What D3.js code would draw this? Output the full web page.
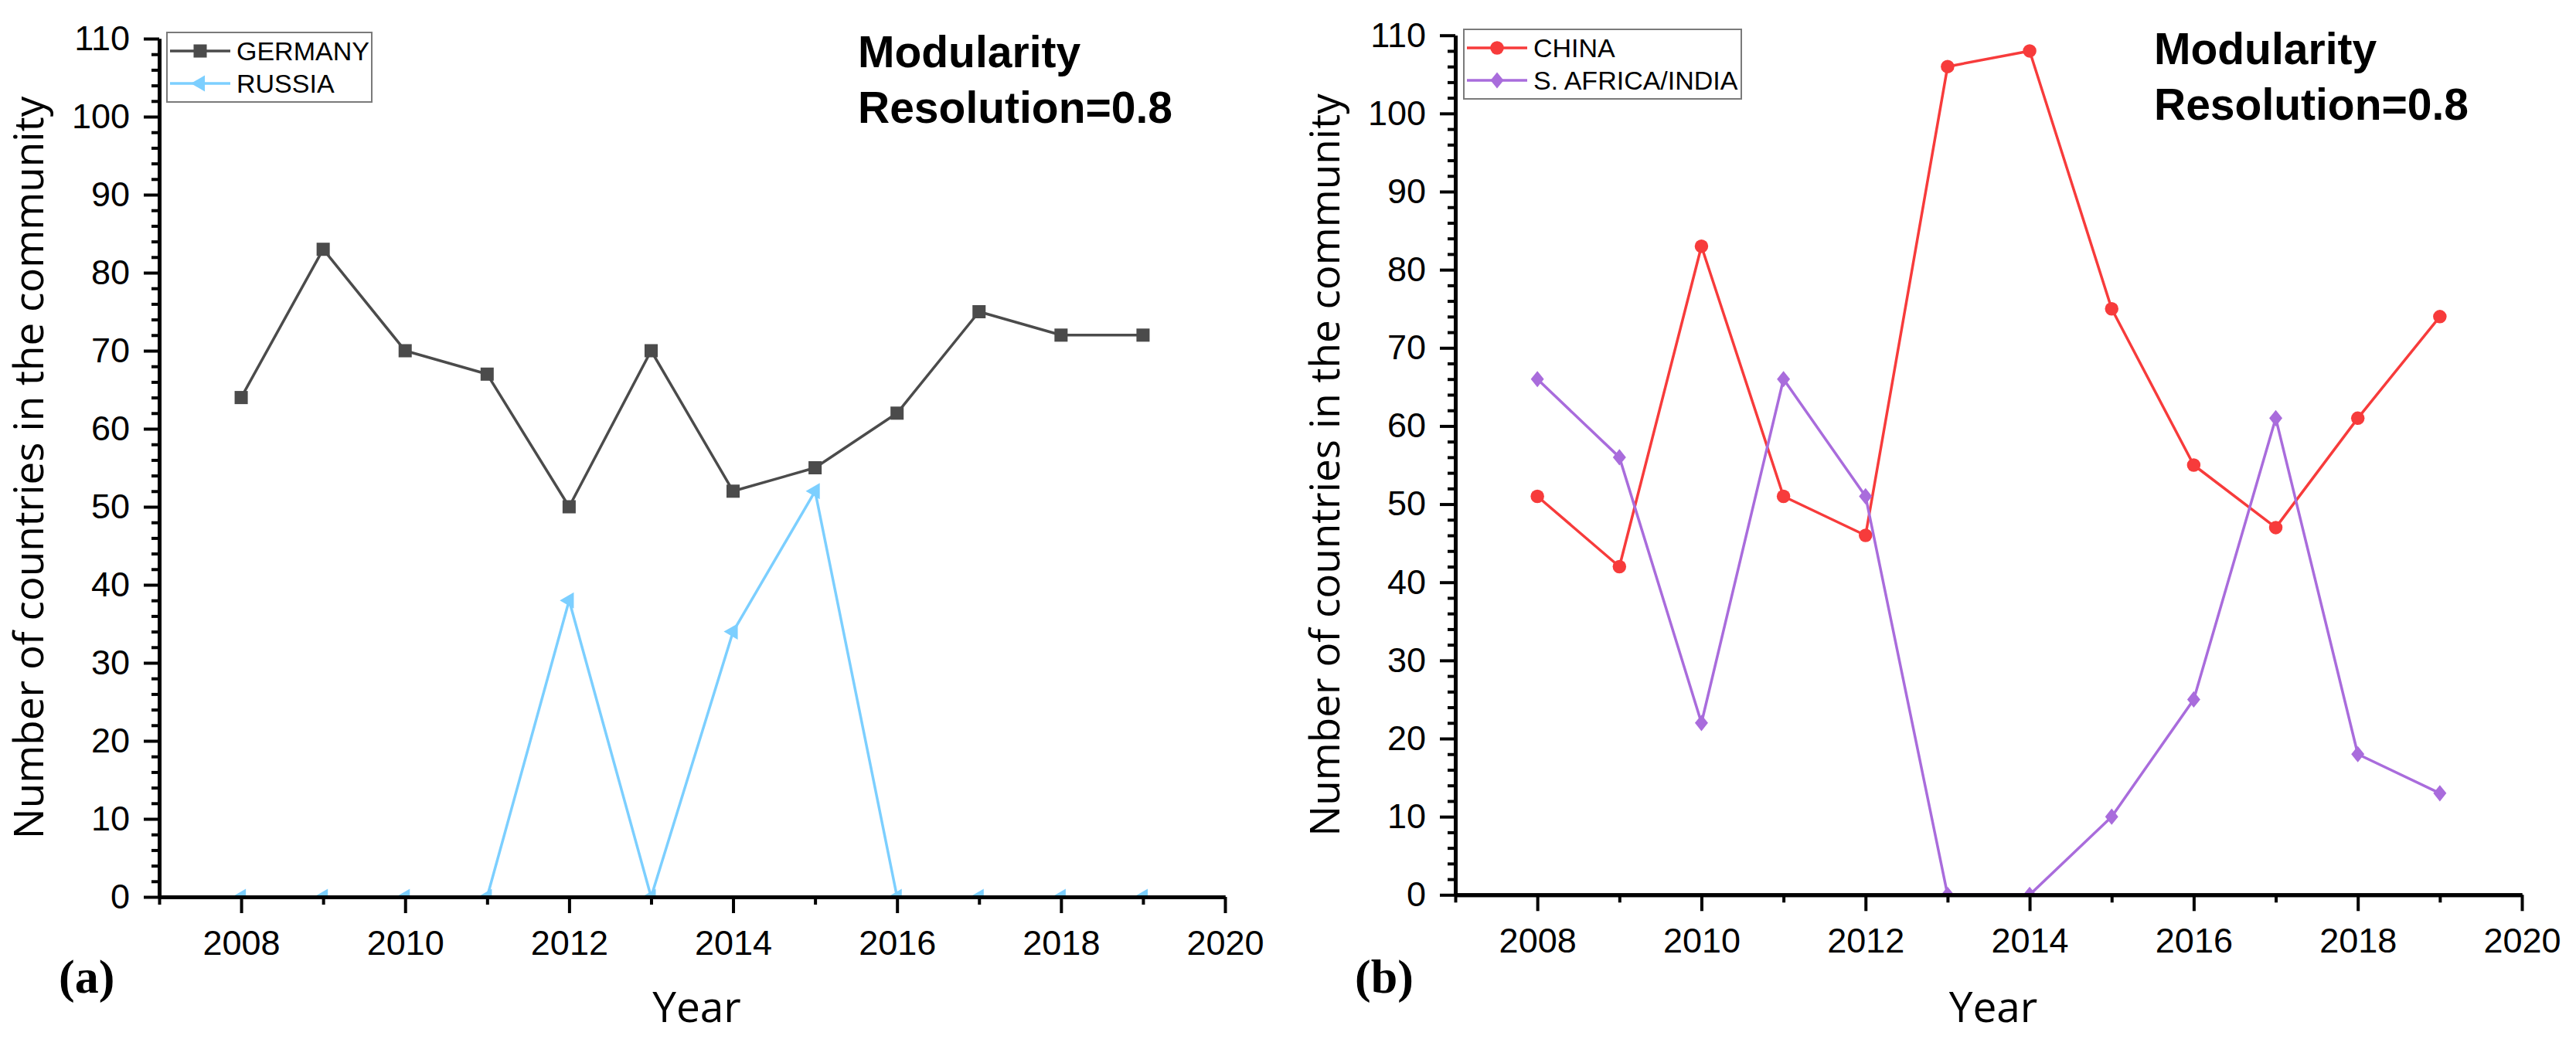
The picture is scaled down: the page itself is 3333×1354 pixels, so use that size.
<!DOCTYPE html>
<html>
<head>
<meta charset="utf-8">
<script src="https://cdn.jsdelivr.net/npm/d3@7"></script>
<style>
  body { margin: 0; background: #fff; }
  svg { display: block; }
</style>
</head>
<body>
<div id="chart"></div>
<script>
// data
const years = [2008, 2009, 2010, 2011, 2012, 2013, 2014, 2015, 2016, 2017, 2018, 2019];
const germany = [64, 83, 70, 67, 50, 70, 52, 55, 62, 75, 72, 72];
const russia = [0, 0, 0, 0, 38, 0, 34, 52, 0, 0, 0, 0];
const china = [51, 42, 83, 51, 46, 106, 108, 75, 55, 47, 61, 74];
const safrica = [66, 56, 22, 66, 51, 0, 0, 10, 25, 61, 18, 13];
const xMajor = [2008, 2010, 2012, 2014, 2016, 2018, 2020];
const xMinor = [2007, 2009, 2011, 2013, 2015, 2017, 2019];
const yMajor = [0, 10, 20, 30, 40, 50, 60, 70, 80, 90, 100, 110];

const W = 3333, H = 1354;
const svg = d3.select("#chart")
  .append("svg")
    .attr("width", W)
    .attr("height", H);

const tickFont = "'Liberation Sans', Arial, sans-serif";
const titleFont = "'Open Sans', 'Liberation Sans', sans-serif";

const panels = [
  {
    id: "a", left: 206, right: 1585, top: 50, bottom: 1161,
    tag: "(a)",
    series: [
      {name: "GERMANY", values: germany, color: "#4b4b4b", symbol: "square"},
      {name: "RUSSIA", values: russia, color: "#7ccfff", symbol: "triangleLeft"}
    ],
    legend: {x: 216, y: 42, w: 265, h: 90}
  },
  {
    id: "b", left: 1883, right: 3263, top: 45.7, bottom: 1158.3,
    tag: "(b)",
    series: [
      {name: "CHINA", values: china, color: "#f73b3b", symbol: "circle"},
      {name: "S. AFRICA/INDIA", values: safrica, color: "#a96cdc", symbol: "diamond"}
    ],
    legend: {x: 1894, y: 38, w: 359, h: 90}
  }
];

// a wider diamond than d3's default one
const fatDiamond = {
  draw(context, size) {
    const h = Math.sqrt(size / 1.6);
    const w = h * 0.8;
    context.moveTo(0, -h);
    context.lineTo(w, 0);
    context.lineTo(0, h);
    context.lineTo(-w, 0);
    context.closePath();
  }
};

function symbolPath(kind) {
  if (kind === "square") return d3.symbol(d3.symbolSquare, 290)();
  if (kind === "circle") return d3.symbol(d3.symbolCircle, 240)();
  if (kind === "diamond") return d3.symbol(fatDiamond, 180)();
  return d3.symbol(d3.symbolTriangle, 190)();
}
function symbolRotate(kind) {
  return kind === "triangleLeft" ? " rotate(-90)" : "";
}

panels.forEach(function(p) {
  const g = svg.append("g");

  const x = d3.scaleLinear().domain([2007, 2020]).range([p.left, p.right]);
  const y = d3.scaleLinear().domain([0, 110]).range([p.bottom, p.top]);

  // clip so values at zero sit half under the axis
  svg.append("clipPath")
      .attr("id", "clip-" + p.id)
    .append("rect")
      .attr("x", p.left)
      .attr("y", p.top - 40)
      .attr("width", p.right - p.left + 20)
      .attr("height", p.bottom - p.top + 40);

  const plot = g.append("g").attr("clip-path", `url(#clip-${p.id})`);

  const line = d3.line()
    .x((d, i) => x(years[i]))
    .y(d => y(d));

  p.series.forEach(function(s) {
    plot.append("path")
      .datum(s.values)
      .attr("fill", "none")
      .attr("stroke", s.color)
      .attr("stroke-width", 3.5)
      .attr("stroke-linejoin", "round")
      .attr("d", line);

    plot.selectAll(null)
      .data(s.values)
      .join("path")
        .attr("d", symbolPath(s.symbol))
        .attr("transform", (d, i) => `translate(${x(years[i])},${y(d)})` + symbolRotate(s.symbol))
        .attr("fill", s.color);
  });

  // axes
  const styleAxis = function(sel) {
    sel.select(".domain").attr("stroke", "#000").attr("stroke-width", 5);
    sel.selectAll(".tick line").attr("stroke", "#000").attr("stroke-width", 4);
    sel.selectAll(".tick text")
      .attr("fill", "#000")
      .style("font-family", tickFont)
      .style("font-size", "45px");
  };

  g.append("g")
    .attr("transform", `translate(0,${p.bottom})`)
    .call(d3.axisBottom(x).tickValues(xMinor).tickSize(10).tickSizeOuter(0).tickFormat(""))
    .call(styleAxis);

  g.append("g")
    .attr("transform", `translate(0,${p.bottom})`)
    .call(d3.axisBottom(x).tickValues(xMajor).tickSize(21).tickSizeOuter(0).tickFormat(d3.format("d")).tickPadding(22))
    .call(styleAxis);

  const yMinor = d3.range(0, 111, 2).filter(v => v % 10 !== 0);
  g.append("g")
    .attr("transform", `translate(${p.left},0)`)
    .call(d3.axisLeft(y).tickValues(yMinor).tickSize(10).tickSizeOuter(0).tickFormat(""))
    .call(styleAxis);

  g.append("g")
    .attr("transform", `translate(${p.left},0)`)
    .call(d3.axisLeft(y).tickValues(yMajor).tickSize(20).tickSizeOuter(0).tickPadding(18))
    .call(styleAxis);

  // legend
  const lg = g.append("g").attr("transform", `translate(${p.legend.x},${p.legend.y})`);
  lg.append("rect")
    .attr("width", p.legend.w)
    .attr("height", p.legend.h)
    .attr("fill", "#fff")
    .attr("stroke", "#7a7a7a")
    .attr("stroke-width", 2);

  p.series.forEach(function(s, i) {
    const ly = 24 + i * 42;
    lg.append("line")
      .attr("x1", 4).attr("x2", 82)
      .attr("y1", ly).attr("y2", ly)
      .attr("stroke", s.color)
      .attr("stroke-width", 3.5);
    lg.append("path")
      .attr("d", symbolPath(s.symbol))
      .attr("transform", `translate(43,${ly})` + symbolRotate(s.symbol))
      .attr("fill", s.color);
    lg.append("text")
      .attr("x", 90)
      .attr("y", ly + 12)
      .style("font-family", tickFont)
      .style("font-size", "34px")
      .text(s.name);
  });

  // annotation
  const note = g.append("text")
    .attr("x", p.left + 904)
    .attr("y", p.top + 37)
    .style("font-family", tickFont)
    .style("font-size", "57px")
    .style("font-weight", "bold");
  note.append("tspan").attr("x", p.left + 904).text("Modularity");
  note.append("tspan").attr("x", p.left + 904).attr("dy", 72).text("Resolution=0.8");

  // axis titles
  g.append("text")
    .attr("transform", `translate(${p.left - 150},${(p.top + p.bottom) / 2}) rotate(-90)`)
    .attr("text-anchor", "middle")
    .style("font-family", titleFont)
    .style("font-size", "53px")
    .text("Number of countries in the community");

  g.append("text")
    .attr("x", (p.left + p.right) / 2 + 6)
    .attr("y", 1323)
    .attr("text-anchor", "middle")
    .style("font-family", titleFont)
    .style("font-size", "55px")
    .text("Year");

  g.append("text")
    .attr("x", p.left - 130)
    .attr("y", 1285)
    .style("font-family", "'Liberation Serif', 'Times New Roman', serif")
    .style("font-size", "62px")
    .style("font-weight", "bold")
    .text(p.tag);
});
</script>
</body>
</html>
